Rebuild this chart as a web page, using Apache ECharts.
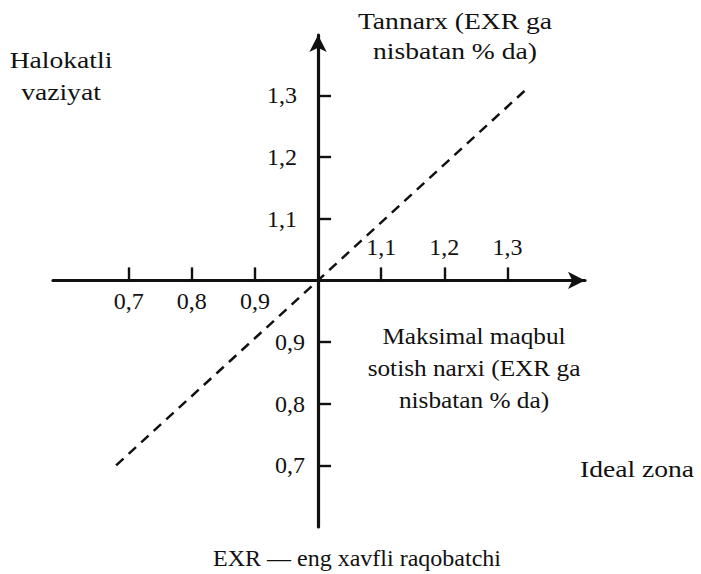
<!DOCTYPE html>
<html>
<head>
<meta charset="utf-8">
<script src="https://cdn.jsdelivr.net/npm/echarts@6/dist/echarts.min.js"></script>
<style>
  html, body { margin: 0; padding: 0; background: #ffffff; }
  #chart { width: 701px; height: 574px; }
</style>
</head>
<body>
<div id="chart"></div>
<script>
// ---- data ----
const CROSS = 1.0;                               // value where the two axes cross
const xTickValues = [0.7, 0.8, 0.9, 1.1, 1.2, 1.3];
const xLabelsBelow = [0.7, 0.8, 0.9];
const xLabelsAbove = [1.1, 1.2, 1.3];
const yTickValues = [0.7, 0.8, 0.9, 1.1, 1.2, 1.3];
const xExtent = [0.58, 1.423];
const yExtent = [0.60, 1.398];
const diagX = [0.68, 1.0, 1.33];                 // dashed line
const diagY = [0.70, 1.0, 1.31];
const textHalokatli = 'Halokatli\nvaziyat';
const textTannarx = 'Tannarx (EXR ga\nnisbatan % da)';
const textMaksimal = 'Maksimal maqbul\nsotish narxi (EXR ga\nnisbatan % da)';
const textIdeal = 'Ideal zona';
const textEXR = 'EXR — eng xavfli raqobatchi';

// ---- layout ----
const W = 701, H = 574;
const GL = 53, GR = 116, GT = 35, GB = 47;
const FONT = '"Liberation Serif", "Times New Roman", serif';
const INK = '#111111';
const fmt = v => v.toFixed(1).replace('.', ',');

// pixel where the axes cross (through the same linear scale as grid 0)
const ox = GL + (CROSS - xExtent[0]) / (xExtent[1] - xExtent[0]) * (W - GL - GR);
const oy = GT + (yExtent[1] - CROSS) / (yExtent[1] - yExtent[0]) * (H - GT - GB);

const chart = echarts.init(document.getElementById('chart'), null, { renderer: 'svg' });

const hiddenAxis = (gi) => ({ type: 'value', gridIndex: gi, show: false, min: 0, max: 1 });
const tickFont = { color: INK, fontFamily: FONT, fontSize: 24 };

const option = {
  backgroundColor: '#ffffff',
  animation: false,
  grid: [
    { left: GL, right: GR, top: GT, bottom: GB },            // 0: plot area for the dashed line
    { left: GL, right: GR, top: GT, bottom: H - oy },        // 1: x axis (line, ticks, lower labels)
    { left: GL, right: GR, top: oy, bottom: GB },            // 2: x axis upper labels
    { left: GL, right: W - ox, top: GT, bottom: GB }         // 3: y axis
  ],
  xAxis: [
    { type: 'value', gridIndex: 0, show: false, min: xExtent[0], max: xExtent[1] },
    {
      type: 'value', gridIndex: 1, position: 'bottom',
      min: xExtent[0], max: xExtent[1],
      axisLine: { show: true, onZero: false,
        symbol: ['none', 'arrow'], symbolSize: [13, 17],
        lineStyle: { color: INK, width: 3.2 } },
      axisTick: { show: true, inside: true, length: 13,
        customValues: xTickValues,
        lineStyle: { color: INK, width: 2.4 } },
      axisLabel: Object.assign({ show: true, margin: 9,
        customValues: xLabelsBelow, formatter: fmt }, tickFont),
      splitLine: { show: false }
    },
    {
      type: 'value', gridIndex: 2, position: 'top',
      min: xExtent[0], max: xExtent[1],
      axisLine: { show: false, onZero: false },
      axisTick: { show: false },
      axisLabel: Object.assign({ show: true, margin: 21,
        customValues: xLabelsAbove, formatter: fmt }, tickFont),
      splitLine: { show: false }
    },
    hiddenAxis(3)
  ],
  yAxis: [
    { type: 'value', gridIndex: 0, show: false, min: yExtent[0], max: yExtent[1] },
    hiddenAxis(1),
    hiddenAxis(2),
    {
      type: 'value', gridIndex: 3, position: 'right',
      min: yExtent[0], max: yExtent[1],
      axisLine: { show: true, onZero: false,
        symbol: ['none', 'arrow'], symbolSize: [13, 17],
        lineStyle: { color: INK, width: 3.2 } },
      axisTick: { show: true, inside: false, length: 13,
        customValues: yTickValues,
        lineStyle: { color: INK, width: 2.4 } },
      axisLabel: Object.assign({ show: true, inside: true, margin: 13,
        customValues: yTickValues,
        formatter: v => (v > CROSS ? '{p|' + fmt(v) + '}' : '{n|' + fmt(v) + '}'),
        rich: {
          p: Object.assign({ padding: [0, 8, 0, 0] }, tickFont),
          n: Object.assign({ padding: [0, 0, 0, 0] }, tickFont)
        } }, tickFont),
      splitLine: { show: false }
    }
  ],
  series: [
    {
      type: 'line', xAxisIndex: 0, yAxisIndex: 0,
      data: diagX.map((x, i) => [x, diagY[i]]),
      symbol: 'none', silent: true,
      lineStyle: { color: INK, width: 2.5, type: [10, 7] }
    }
  ],
  graphic: [
    { type: 'text', x: 61, y: 44, scaleX: 1.2,
      style: { text: textHalokatli, align: 'center', verticalAlign: 'top',
        font: '23px ' + FONT, lineHeight: 32, fill: INK } },
    { type: 'text', x: 455, y: 6, scaleX: 1.2,
      style: { text: textTannarx, align: 'center', verticalAlign: 'top',
        font: '23px ' + FONT, lineHeight: 30, fill: INK } },
    { type: 'text', x: 474, y: 320, scaleX: 1.1,
      style: { text: textMaksimal, align: 'center', verticalAlign: 'top',
        font: '23px ' + FONT, lineHeight: 32, fill: INK } },
    { type: 'text', x: 637, y: 453, scaleX: 1.2,
      style: { text: textIdeal, align: 'center', verticalAlign: 'top',
        font: '23px ' + FONT, lineHeight: 32, fill: INK } },
    { type: 'text', x: 357, y: 543,
      style: { text: textEXR, align: 'center', verticalAlign: 'top',
        font: '24px ' + FONT, lineHeight: 29, fill: INK } }
  ]
};
chart.setOption(option);
</script>
</body>
</html>
